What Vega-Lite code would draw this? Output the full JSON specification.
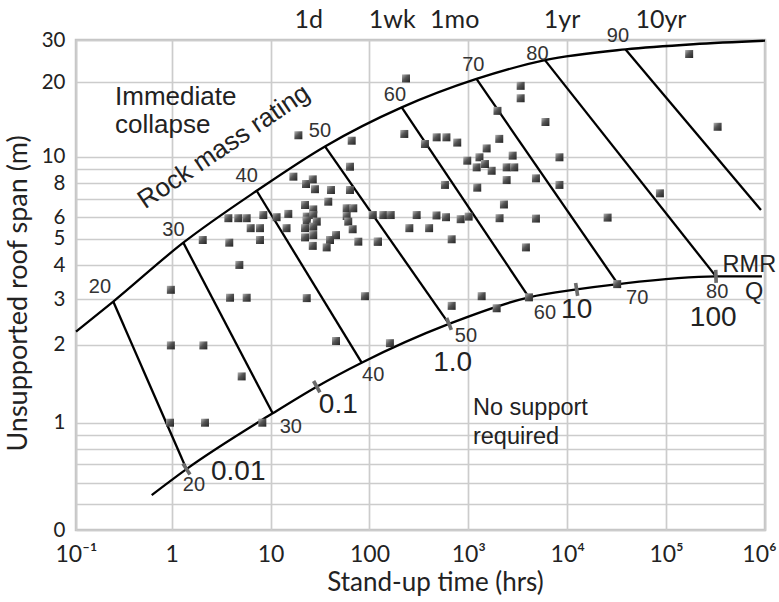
{
  "$schema": "https://vega.github.io/schema/vega-lite/v6.json",
  "width": 689,
  "height": 490,
  "autosize": {"type": "none"},
  "padding": {"left": 76, "top": 40, "right": 14, "bottom": 72},
  "background": "white",
  "config": {
    "view": {"stroke": "#c4c4c4", "strokeWidth": 2.5}
  },
  "datasets": {
    "upper": [
      {"t": 0.1, "s": 2.25}, {"t": 0.245, "s": 2.94}, {"t": 1.31, "s": 4.84}, {"t": 7.23, "s": 7.5},
      {"t": 35.5, "s": 11.0}, {"t": 212, "s": 15.8}, {"t": 1208, "s": 20.6}, {"t": 5950, "s": 24.7},
      {"t": 38900, "s": 27.4}, {"t": 188000, "s": 28.8}, {"t": 1000000, "s": 29.8}
    ],
    "lower": [
      {"t": 0.618, "s": 0.539}, {"t": 1.41, "s": 0.673}, {"t": 10.5, "s": 1.087}, {"t": 29.3, "s": 1.378},
      {"t": 83.4, "s": 1.706}, {"t": 637, "s": 2.41}, {"t": 4100, "s": 3.05}, {"t": 12450, "s": 3.26},
      {"t": 32600, "s": 3.41}, {"t": 319000, "s": 3.64}, {"t": 931000, "s": 3.64}
    ],
    "rmrlines": [
      {"rmr": 20, "t": 0.245, "s": 2.94}, {"rmr": 20, "t": 1.41, "s": 0.673},
      {"rmr": 30, "t": 1.31, "s": 4.84}, {"rmr": 30, "t": 10.5, "s": 1.087},
      {"rmr": 40, "t": 7.23, "s": 7.5}, {"rmr": 40, "t": 83.4, "s": 1.706},
      {"rmr": 50, "t": 35.5, "s": 11.0}, {"rmr": 50, "t": 637, "s": 2.41},
      {"rmr": 60, "t": 212, "s": 15.8}, {"rmr": 60, "t": 4100, "s": 3.05},
      {"rmr": 70, "t": 1208, "s": 20.6}, {"rmr": 70, "t": 32600, "s": 3.41},
      {"rmr": 80, "t": 5950, "s": 24.7}, {"rmr": 80, "t": 319000, "s": 3.64},
      {"rmr": 90, "t": 38900, "s": 27.4}, {"rmr": 90, "t": 910000, "s": 6.37}
    ],
    "qmarks": [
      {"t": 1.41, "s": 0.673, "q": 0.01}, {"t": 29.3, "s": 1.378, "q": 0.1}, {"t": 637, "s": 2.41, "q": 1},
      {"t": 12450, "s": 3.26, "q": 10}, {"t": 319000, "s": 3.64, "q": 100}
    ],
    "points": [
      {"t": 4.83, "s": 4.01}, {"t": 0.98, "s": 3.25}, {"t": 3.89, "s": 3.04}, {"t": 5.73, "s": 3.04},
      {"t": 23.2, "s": 3.03}, {"t": 90, "s": 3.08}, {"t": 0.98, "s": 1.99}, {"t": 2.09, "s": 1.99},
      {"t": 45.9, "s": 2.07}, {"t": 161, "s": 2.03}, {"t": 5.1, "s": 1.51}, {"t": 0.96, "s": 1.0},
      {"t": 2.17, "s": 1.0}, {"t": 8.25, "s": 1.0}, {"t": 63.5, "s": 9.19}, {"t": 17, "s": 8.45},
      {"t": 22.8, "s": 7.94}, {"t": 26.7, "s": 8.26}, {"t": 28.1, "s": 7.6}, {"t": 40.8, "s": 7.55},
      {"t": 63.5, "s": 7.55}, {"t": 38.3, "s": 6.84}, {"t": 22.3, "s": 6.65}, {"t": 27, "s": 6.41},
      {"t": 58.8, "s": 6.47}, {"t": 68.6, "s": 6.47}, {"t": 3.74, "s": 5.95}, {"t": 4.71, "s": 5.95},
      {"t": 5.73, "s": 5.95}, {"t": 8.44, "s": 6.11}, {"t": 11.5, "s": 6.0}, {"t": 15.1, "s": 6.17},
      {"t": 23.2, "s": 6.03}, {"t": 27, "s": 6.11}, {"t": 23.2, "s": 5.83}, {"t": 29.3, "s": 5.78},
      {"t": 58.8, "s": 6.06}, {"t": 61, "s": 5.78}, {"t": 108, "s": 6.11}, {"t": 6.29, "s": 5.47},
      {"t": 7.81, "s": 5.47}, {"t": 14.5, "s": 5.47}, {"t": 22.3, "s": 5.47}, {"t": 27, "s": 5.54},
      {"t": 67.6, "s": 5.42}, {"t": 27, "s": 5.16}, {"t": 22.3, "s": 5.06}, {"t": 45.9, "s": 5.16},
      {"t": 39.9, "s": 4.95}, {"t": 77.1, "s": 4.88}, {"t": 121, "s": 4.88}, {"t": 2.06, "s": 4.95},
      {"t": 3.82, "s": 4.84}, {"t": 7.81, "s": 4.95}, {"t": 26.7, "s": 4.71}, {"t": 36.9, "s": 4.65},
      {"t": 19.1, "s": 12.2}, {"t": 66.1, "s": 11.6}, {"t": 234, "s": 20.7}, {"t": 3380, "s": 19.3},
      {"t": 3380, "s": 17.2}, {"t": 1970, "s": 15.3}, {"t": 6020, "s": 13.8}, {"t": 225, "s": 12.35},
      {"t": 364, "s": 11.25}, {"t": 478, "s": 11.97}, {"t": 600, "s": 11.97}, {"t": 772, "s": 11.4},
      {"t": 2053, "s": 11.8}, {"t": 1531, "s": 10.8}, {"t": 1295, "s": 9.95}, {"t": 975, "s": 9.67},
      {"t": 2805, "s": 10.1}, {"t": 8340, "s": 9.95}, {"t": 1213, "s": 9.14}, {"t": 1720, "s": 8.88},
      {"t": 2439, "s": 9.14}, {"t": 2912, "s": 9.14}, {"t": 1472, "s": 9.4}, {"t": 2439, "s": 8.21},
      {"t": 4826, "s": 8.33}, {"t": 8340, "s": 7.88}, {"t": 580, "s": 7.88}, {"t": 1230, "s": 7.7},
      {"t": 2290, "s": 6.68}, {"t": 138, "s": 6.11}, {"t": 164, "s": 6.11}, {"t": 300, "s": 6.11},
      {"t": 476, "s": 6.09}, {"t": 594, "s": 6.0}, {"t": 836, "s": 5.9}, {"t": 1007, "s": 6.03},
      {"t": 2068, "s": 5.95}, {"t": 4826, "s": 5.93}, {"t": 253, "s": 5.47}, {"t": 401, "s": 5.47},
      {"t": 122, "s": 4.88}, {"t": 678, "s": 4.98}, {"t": 3822, "s": 4.65}, {"t": 171000, "s": 26.2},
      {"t": 331700, "s": 13.2}, {"t": 86550, "s": 7.34}, {"t": 25600, "s": 5.98}, {"t": 678, "s": 2.83},
      {"t": 1363, "s": 3.08}, {"t": 1933, "s": 2.77}, {"t": 4100, "s": 3.05}, {"t": 32000, "s": 3.41}
    ],
    "rmrlabels": [
      {"t": 0.178, "s": 3.33, "label": "20"}, {"t": 1.04, "s": 5.39, "label": "30"},
      {"t": 5.73, "s": 8.5, "label": "40"}, {"t": 31.6, "s": 12.7, "label": "50"},
      {"t": 181, "s": 17.7, "label": "60"}, {"t": 1121, "s": 23.6, "label": "70"},
      {"t": 4996, "s": 26.3, "label": "80"}, {"t": 32560, "s": 31.3, "label": "90"},
      {"t": 1.68, "s": 0.587, "label": "20"}, {"t": 16, "s": 0.966, "label": "30"},
      {"t": 109, "s": 1.53, "label": "40"}, {"t": 946, "s": 2.17, "label": "50"},
      {"t": 5950, "s": 2.65, "label": "60"}, {"t": 51040, "s": 3.03, "label": "70"},
      {"t": 328700, "s": 3.2, "label": "80"}
    ],
    "qlabels": [
      {"t": 4.71, "s": 0.658, "label": "0.01"}, {"t": 48.4, "s": 1.17, "label": "0.1"},
      {"t": 694, "s": 1.7, "label": "1.0"}, {"t": 12450, "s": 2.73, "label": "10"},
      {"t": 299400, "s": 2.54, "label": "100"}
    ],
    "notesbig": [
      {"t": 0.2556, "s": 17.4, "label": "Immediate"}, {"t": 0.2556, "s": 13.4, "label": "collapse"}
    ],
    "notes": [
      {"t": 1113, "s": 1.14, "label": "No support"}, {"t": 1113, "s": 0.885, "label": "required"},
      {"t": 372600, "s": 4.01, "label": "RMR"}, {"t": 627000, "s": 3.2, "label": "Q"}
    ],
    "rock": [
      {"t": 3.37, "s": 10.97, "label": "Rock mass rating"}
    ]
  },
  "encoding": {
    "y": {
      "field": "s",
      "type": "quantitative",
      "scale": {"type": "log", "domain": [0.4, 1, 3, 10, 20, 30], "range": [490, 382.7, 259.3, 116.7, 42, 0], "nice": false, "zero": false},
      "axis": {
        "values": [0.4, 0.5, 0.6, 0.7, 0.8, 0.9, 1, 2, 3, 4, 5, 6, 7, 8, 9, 10, 20, 30],
        "labelExpr": "datum.value == 0.4 ? '0' : (indexof([1, 2, 3, 4, 5, 6, 8, 10, 20, 30], datum.value) >= 0 ? '' + datum.value : '')",
        "title": "Unsupported roof span (m)",
        "grid": true,
        "gridColor": "#cccccc",
        "gridWidth": 1.7,
        "domain": false,
        "ticks": false,
        "labelFont": "Lato",
        "labelFontSize": 20.5,
        "labelColor": "#222222",
        "labelPadding": 11,
        "labelFlush": false,
        "labelOverlap": false,
        "labelBound": false,
        "titleFont": "Lato",
        "titleFontSize": 27,
        "titleFontWeight": "normal",
        "titleColor": "#222222",
        "titlePadding": 9,
        "titleY": 253
      }
    }
  },
  "layer": [
    {
      "data": {"name": "upper"},
      "mark": {"type": "line", "color": "black", "strokeWidth": 2.3, "interpolate": "monotone"},
      "encoding": {
        "x": {
          "field": "t",
          "type": "quantitative",
          "scale": {"type": "log", "domain": [0.1, 1, 1000000], "range": [0, 95.7, 689], "nice": false, "zero": false},
          "axis": {
            "orient": "bottom",
            "values": [0.1, 1, 10, 100, 1000, 10000, 100000, 1000000],
            "labelExpr": "datum.value < 0.5 ? '10⁻¹' : datum.value < 5 ? '1' : datum.value < 50 ? '10' : datum.value < 500 ? '100' : datum.value < 5000 ? '10³' : datum.value < 50000 ? '10⁴' : datum.value < 500000 ? '10⁵' : '10⁶'",
            "labelOffset": {"expr": "datum.value > 500000 ? -6 : 0"},
            "title": "Stand-up time (hrs)",
            "grid": true,
            "gridColor": "#cccccc",
            "gridWidth": 1.7,
            "domain": false,
            "ticks": false,
            "labelFont": "Lato",
            "labelFontSize": 23,
            "labelColor": "#222222",
            "labelPadding": 13,
            "labelFlush": false,
            "labelOverlap": false,
            "labelBound": false,
            "titleFont": "Lato",
            "titleFontSize": 26,
            "titleFontWeight": "normal",
            "titleColor": "#222222",
            "titlePadding": 3,
            "titleX": 359
          }
        }
      }
    },
    {
      "data": {"name": "lower"},
      "mark": {"type": "line", "color": "black", "strokeWidth": 2.3, "interpolate": "monotone"},
      "encoding": {"x": {"field": "t", "type": "quantitative", "axis": null}}
    },
    {
      "data": {"name": "rmrlines"},
      "mark": {"type": "line", "color": "black", "strokeWidth": 2.3},
      "encoding": {
        "x": {"field": "t", "type": "quantitative", "axis": null},
        "detail": {"field": "rmr", "type": "nominal"}
      }
    },
    {
      "data": {"name": "qmarks"},
      "mark": {"type": "point", "shape": "M-0.28,-1L0.28,-1L0.28,1L-0.28,1Z", "filled": true, "fill": "#6b6b6b", "opacity": 1, "size": 169, "strokeWidth": 0},
      "encoding": {
        "x": {"field": "t", "type": "quantitative", "axis": null},
        "angle": {"field": "q", "type": "quantitative", "legend": null, "scale": {"type": "log", "domain": [0.01, 0.1, 1, 10, 100], "range": [-33, -29, -21, -9, -2]}}
      }
    },
    {
      "data": {"name": "points"},
      "mark": {
        "type": "point",
        "shape": "square",
        "filled": true,
        "opacity": 1,
        "size": 64,
        "strokeWidth": 0,
        "fill": {"gradient": "linear", "x1": 0, "y1": 0, "x2": 1, "y2": 1, "stops": [{"offset": 0, "color": "#b5b5b5"}, {"offset": 0.45, "color": "#555555"}, {"offset": 1, "color": "#222222"}]}
      },
      "encoding": {"x": {"field": "t", "type": "quantitative", "axis": null}}
    },
    {
      "data": {"name": "rmrlabels"},
      "mark": {"type": "text", "font": "Liberation Sans", "fontSize": 20, "color": "#333333", "align": "center", "baseline": "middle"},
      "encoding": {
        "x": {"field": "t", "type": "quantitative", "axis": null},
        "text": {"field": "label"}
      }
    },
    {
      "data": {"name": "qlabels"},
      "mark": {"type": "text", "font": "Liberation Sans", "fontSize": 28, "color": "#222222", "align": "center", "baseline": "middle"},
      "encoding": {
        "x": {"field": "t", "type": "quantitative", "axis": null},
        "text": {"field": "label"}
      }
    },
    {
      "data": {"name": "notesbig"},
      "mark": {"type": "text", "font": "Liberation Sans", "fontSize": 26, "color": "#222222", "align": "left", "baseline": "middle"},
      "encoding": {
        "x": {"field": "t", "type": "quantitative", "axis": null},
        "text": {"field": "label"}
      }
    },
    {
      "data": {"name": "notes"},
      "mark": {"type": "text", "font": "Liberation Sans", "fontSize": 23.5, "color": "#222222", "align": "left", "baseline": "middle"},
      "encoding": {
        "x": {"field": "t", "type": "quantitative", "axis": null},
        "text": {"field": "label"}
      }
    },
    {
      "data": {"name": "rock"},
      "mark": {"type": "text", "font": "Liberation Sans", "fontSize": 26, "color": "#222222", "align": "center", "baseline": "middle", "angle": -34},
      "encoding": {
        "x": {
          "field": "t",
          "type": "quantitative",
          "axis": {
            "orient": "top",
            "values": [24, 168, 720, 8760, 87600],
            "labelExpr": "datum.value < 100 ? '1d' : datum.value < 500 ? '1wk' : datum.value < 5000 ? '1mo' : datum.value < 50000 ? '1yr' : '10yr'",
            "title": null,
            "grid": false,
            "domain": false,
            "ticks": false,
            "labelFont": "Lato",
            "labelFontSize": 25,
            "labelColor": "#222222",
            "labelPadding": 8,
            "labelFlush": false,
            "labelOverlap": false,
            "labelBound": false
          }
        },
        "text": {"field": "label"}
      }
    }
  ],
  "resolve": {"axis": {"x": "independent"}}
}
